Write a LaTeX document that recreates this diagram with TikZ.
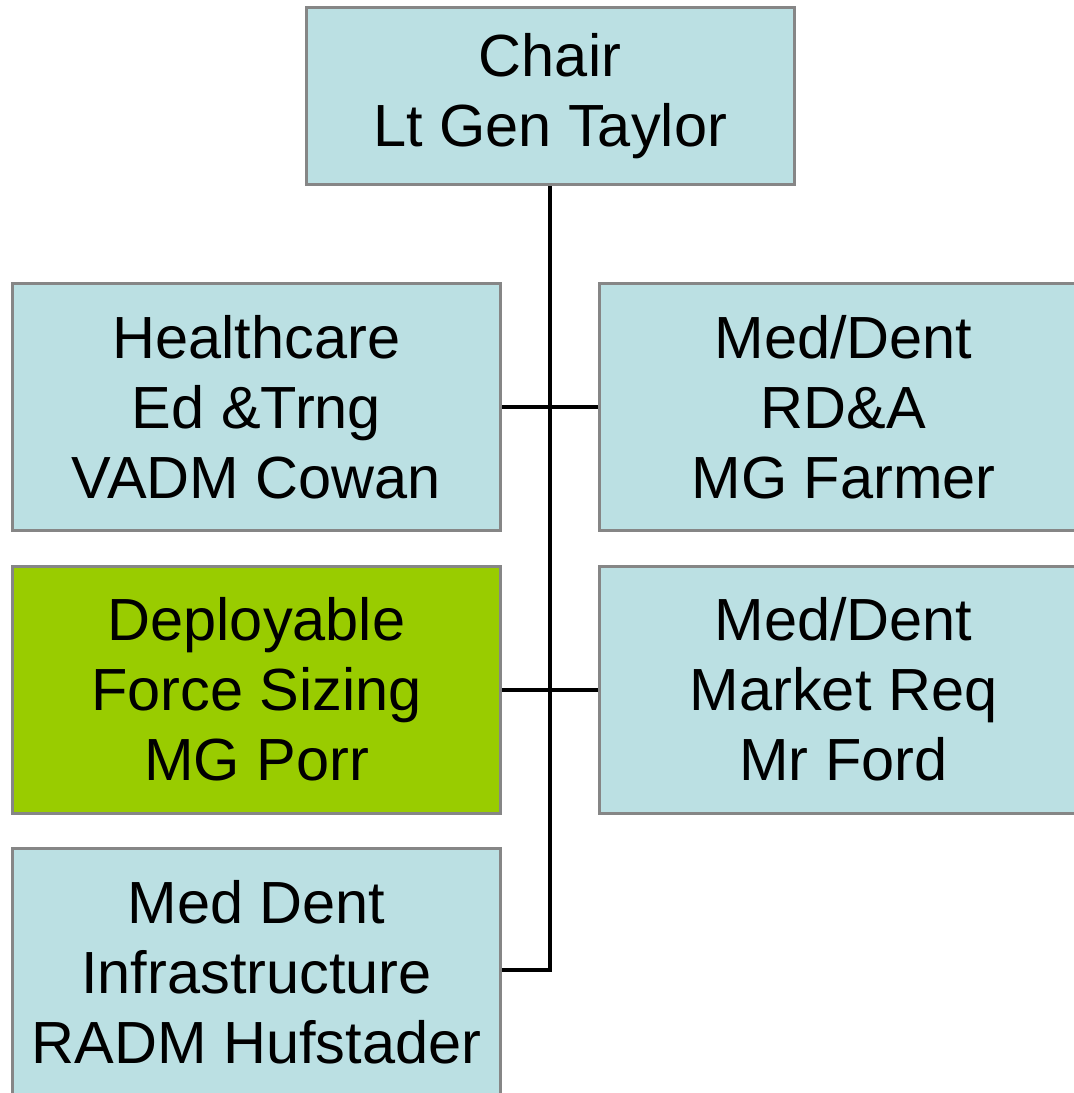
\documentclass[tikz,border=0pt]{standalone}
\usepackage{fontspec}
\setmainfont{Liberation Sans}
\definecolor{boxblue}{HTML}{BBE0E3}
\definecolor{boxgreen}{HTML}{99CC00}
\definecolor{boxedge}{HTML}{868686}
\begin{document}
\begin{tikzpicture}[x=1pt,y=-1pt,
  orgbox/.style={draw=boxedge, line width=3pt, fill=boxblue, inner sep=0pt,
    minimum width=488pt, minimum height=247pt, align=center,
    font=\fontsize{59.5}{70}\selectfont},
  link/.style={draw=black, line width=4pt}]
\useasboundingbox (0,0) rectangle (1074,1093);
\clip (0,0) rectangle (1074,1093);
% chair
\node[orgbox, minimum height=177pt] (chair) at (550,96) {Chair\\Lt Gen Taylor};
% left column
\node[orgbox] (edtr) at (256.5,407) {Healthcare\\Ed \&Trng\\VADM Cowan};
\node[orgbox, fill=boxgreen] (force) at (256.5,689.5) {Deployable\\Force Sizing\\MG Porr};
\node[orgbox] (infra) at (256.5,972) {Med Dent\\Infrastructure\\RADM Hufstader};
% right column
\node[orgbox] (rda) at (843.5,407) {Med/Dent\\RD\&A\\MG Farmer};
\node[orgbox] (market) at (843.5,689.5) {Med/Dent\\Market Req\\Mr Ford};
% connectors
\coordinate (spineend) at (550,970);
\draw[link] (chair.south) -- (spineend) -- (infra.east |- spineend);
\draw[link] (edtr.east) -- (rda.west);
\draw[link] (force.east) -- (market.west);
\end{tikzpicture}
\end{document}
